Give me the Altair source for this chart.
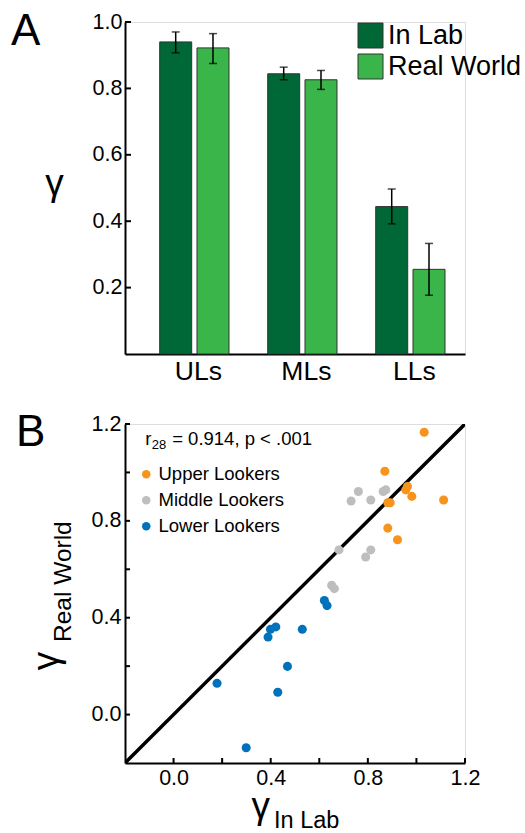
import altair as alt
import pandas as pd

FONT = "Liberation Sans"

# ---------------- Panel A data ----------------
groups = ["ULs", "MLs", "LLs"]
series = ["In Lab", "Real World"]
lab_mean = [0.940, 0.844, 0.444]
lab_lo = [0.907, 0.826, 0.392]
lab_hi = [0.970, 0.864, 0.497]
rw_mean = [0.922, 0.826, 0.255]
rw_lo = [0.875, 0.797, 0.177]
rw_hi = [0.965, 0.854, 0.333]
bar_colors = ["#006837", "#39B54A"]
yA_ticks = [0.2, 0.4, 0.6, 0.8, 1.0]

# ---------------- Panel B data ----------------
cats = ["Upper Lookers", "Middle Lookers", "Lower Lookers"]
cat_colors = ["#F7941D", "#BCBEC0", "#0072BC"]
upper_lab = [1.032, 0.870, 0.956, 0.963, 0.981, 1.112, 0.882, 0.892, 0.882, 0.922]
upper_rw = [1.166, 1.005, 0.928, 0.942, 0.901, 0.886, 0.875, 0.875, 0.770, 0.722]
middle_lab = [0.761, 0.731, 0.812, 0.863, 0.874, 0.681, 0.812, 0.791, 0.651, 0.662]
middle_rw = [0.921, 0.882, 0.886, 0.921, 0.928, 0.680, 0.680, 0.651, 0.534, 0.520]
lower_lab = [0.621, 0.632, 0.421, 0.399, 0.389, 0.530, 0.469, 0.179, 0.429, 0.299]
lower_rw = [0.471, 0.450, 0.362, 0.352, 0.320, 0.352, 0.199, 0.129, 0.092, -0.137]
diag = [-0.2, 1.2]
xB_labels = [0.0, 0.4, 0.8, 1.2]
B_ticks = [0.0, 0.2, 0.4, 0.6, 0.8, 1.0, 1.2]
stat_anchor = {"x": [-0.117], "y": [1.115]}

# ---------------- Panel A ----------------
bars_df = pd.DataFrame({
    "group": groups * 2,
    "series": [series[0]] * 3 + [series[1]] * 3,
    "mean": lab_mean + rw_mean,
    "lo": lab_lo + rw_lo,
    "hi": lab_hi + rw_hi,
})

xA = alt.X("group:N", sort=groups,
           scale=alt.Scale(paddingInner=0, paddingOuter=0.074, align=0.96),
           axis=alt.Axis(title=None, labelAngle=0, labelFontSize=26.5, labelFont=FONT,
                         labelColor="black", ticks=False, tickSize=0, labelPadding=4,
                         labelOffset=4, domainColor="black", domainWidth=2))
xoffA = alt.XOffset("series:N", sort=series,
                    scale=alt.Scale(paddingInner=0.142, paddingOuter=0.519))
yscaleA = alt.Scale(domain=[0, 1], nice=False, zero=True)

baseA = alt.Chart(bars_df)
bars = baseA.mark_bar(stroke="#333333", strokeWidth=1).encode(
    x=xA, xOffset=xoffA,
    y=alt.Y("mean:Q", scale=yscaleA,
            axis=alt.Axis(values=yA_ticks, format=".1f", ticks=False, tickSize=0,
                          labelPadding=3, labelFontSize=21.5, labelFont=FONT,
                          labelColor="black", domainColor="black", domainWidth=2,
                          grid=False, title="γ", titleAngle=0, titleFontSize=37,
                          titleFont=FONT, titleFontWeight="normal", titleColor="black",
                          titleX=-71, titleY=172, titleAlign="center",
                          titleBaseline="alphabetic")),
    color=alt.Color("series:N", scale=alt.Scale(domain=series, range=bar_colors),
                    legend=alt.Legend(title=None, orient="none", legendX=232, legendY=0,
                                      symbolType="square", symbolSize=625,
                                      symbolStrokeColor="#333333", symbolStrokeWidth=1,
                                      symbolOpacity=1, labelFontSize=27, labelFont=FONT,
                                      labelColor="black", labelOffset=4, rowPadding=2,
                                      padding=0)),
)
err = baseA.mark_rule(color="black", strokeWidth=1.5).encode(
    x=xA, xOffset=xoffA, y=alt.Y("lo:Q", scale=yscaleA), y2="hi:Q")
cap_lo = baseA.mark_tick(color="black", size=8, thickness=1.5, orient="horizontal").encode(
    x=xA, xOffset=xoffA, y=alt.Y("lo:Q", scale=yscaleA))
cap_hi = baseA.mark_tick(color="black", size=8, thickness=1.5, orient="horizontal").encode(
    x=xA, xOffset=xoffA, y=alt.Y("hi:Q", scale=yscaleA))
ticksA = alt.Chart(pd.DataFrame({"v": yA_ticks})).mark_rule(color="black", strokeWidth=2).encode(
    y=alt.Y("v:Q", scale=yscaleA), x=alt.value(0), x2=alt.value(6))
labelA = alt.Chart(pd.DataFrame({"t": ["A"]})).mark_text(
    fontSize=44, font=FONT, align="left", baseline="alphabetic", color="black").encode(
    x=alt.value(-114), y=alt.value(23), text="t:N")

panelA = alt.layer(bars, err, cap_lo, cap_hi, ticksA, labelA).properties(width=340, height=332)

# ---------------- Panel B ----------------
scat_df = pd.DataFrame({
    "lab": upper_lab + middle_lab + lower_lab,
    "rw": upper_rw + middle_rw + lower_rw,
    "grp": [cats[0]] * len(upper_lab) + [cats[1]] * len(middle_lab) + [cats[2]] * len(lower_lab),
})
sx = alt.Scale(domain=[-0.2, 1.2], nice=False, zero=False)
sy = alt.Scale(domain=[-0.2, 1.2], nice=False, zero=False)
axis_common = dict(format=".1f", ticks=False, tickSize=0, labelPadding=4, labelFontSize=21.5,
                   labelFont=FONT, labelColor="black", domainColor="black", domainWidth=2,
                   grid=False, title=None, labelOverlap=False, labelFlush=False)

line = alt.Chart(pd.DataFrame({"a": diag, "b": diag})).mark_line(
    color="black", strokeWidth=3.5, clip=True).encode(
    x=alt.X("a:Q", scale=sx, axis=alt.Axis(values=xB_labels, **axis_common)),
    y=alt.Y("b:Q", scale=sy, axis=alt.Axis(values=xB_labels, **axis_common)))
pts = alt.Chart(scat_df).mark_circle(size=82, opacity=1).encode(
    x=alt.X("lab:Q", scale=sx),
    y=alt.Y("rw:Q", scale=sy),
    color=alt.Color("grp:N", scale=alt.Scale(domain=cats, range=cat_colors),
                    legend=alt.Legend(title=None, orient="none", legendX=12, legendY=41,
                                      symbolType="circle", symbolSize=72, symbolOpacity=1,
                                      labelFontSize=18.5, labelFont=FONT, labelColor="black",
                                      labelOffset=3, rowPadding=7, padding=0)),
)
tick_df = pd.DataFrame({"v": B_ticks})
ticksBy = alt.Chart(tick_df).mark_rule(color="black", strokeWidth=2).encode(
    y=alt.Y("v:Q", scale=sy), x=alt.value(0), x2=alt.value(5))
ticksBx = alt.Chart(tick_df).mark_rule(color="black", strokeWidth=2).encode(
    x=alt.X("v:Q", scale=sx), y=alt.value(339), y2=alt.value(334))

stat = alt.Chart(pd.DataFrame(stat_anchor))
stat_r = stat.mark_text(text="r", fontSize=18.5, font=FONT, align="left",
                        baseline="alphabetic", color="black").encode(
    x=alt.X("x:Q", scale=sx), y=alt.Y("y:Q", scale=sy))
stat_sub = stat.mark_text(text="28", fontSize=13, font=FONT, align="left",
                          baseline="alphabetic", color="black", dx=6.5, dy=4).encode(
    x=alt.X("x:Q", scale=sx), y=alt.Y("y:Q", scale=sy))
stat_rest = stat.mark_text(text="= 0.914, p < .001", fontSize=18.5, font=FONT, align="left",
                           baseline="alphabetic", color="black", dx=27).encode(
    x=alt.X("x:Q", scale=sx), y=alt.Y("y:Q", scale=sy))

txt = pd.DataFrame({"t": ["x"]})
xt_g = alt.Chart(txt).mark_text(text="γ", fontSize=37, font=FONT, align="center",
                                baseline="alphabetic", color="black").encode(
    x=alt.value(135.7), y=alt.value(394))
xt_s = alt.Chart(txt).mark_text(text="In Lab", fontSize=23.5, font=FONT, align="left",
                                baseline="alphabetic", color="black").encode(
    x=alt.value(149), y=alt.value(404.3))
yt_g = alt.Chart(txt).mark_text(text="γ", fontSize=37, font=FONT, align="center",
                                baseline="alphabetic", color="black", angle=270).encode(
    x=alt.value(-67), y=alt.value(237))
yt_s = alt.Chart(txt).mark_text(text="Real World", fontSize=24.5, font=FONT, align="left",
                                baseline="alphabetic", color="black", angle=270).encode(
    x=alt.value(-54), y=alt.value(218))
labelB = alt.Chart(txt).mark_text(text="B", fontSize=44, font=FONT, align="left",
                                  baseline="alphabetic", color="black").encode(
    x=alt.value(-109), y=alt.value(22))

panelB = alt.layer(line, pts, ticksBy, ticksBx, stat_r, stat_sub, stat_rest,
                   xt_g, xt_s, yt_g, yt_s, labelB).properties(width=340, height=339)

chart = alt.vconcat(panelA, panelB, spacing=25).resolve_scale(
    color="independent", x="independent", y="independent"
).properties(
    padding={"left": 10, "top": 9, "right": 0, "bottom": 0}
).configure_view(stroke=None).configure(background="white")

chart.save("out.html", embed_options={"renderer": "svg", "actions": False})
